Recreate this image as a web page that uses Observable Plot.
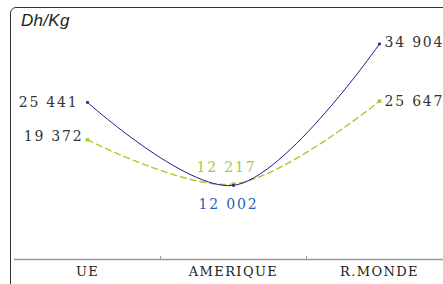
<!DOCTYPE html>
<html><head><meta charset="utf-8">
<script src="https://cdn.jsdelivr.net/npm/d3@7"></script>
<script src="https://cdn.jsdelivr.net/npm/@observablehq/plot@0.6"></script>
<style>
html,body{margin:0;padding:0;background:#fff;overflow:hidden;width:443px;height:284px;}
#wrap{position:relative;width:443px;height:284px;}
#frame{position:absolute;left:10px;top:7px;width:460px;height:300px;border:1.5px solid #333;border-radius:6px;box-sizing:border-box;pointer-events:none;}
#unit{position:absolute;left:21px;top:11px;font:italic 17px "Liberation Sans",Arial,sans-serif;color:#222;letter-spacing:0.3px;}
#chart{position:absolute;left:0;top:0;}
.val text{letter-spacing:1.8px;}
.cat text{letter-spacing:1.4px;}
</style></head>
<body><div id="wrap"><div id="chart"></div><div id="frame"></div><div id="unit">Dh/Kg</div></div>
<script>
const categories = ["UE", "AMERIQUE", "R.MONDE"];
const seriesBlue = [25441, 12002, 34904];
const seriesGreen = [19372, 12217, 25647];

const fmt = d3.formatLocale({thousands: " ", grouping: [3], decimal: ","}).format(",");
const blue = categories.map((c, i) => ({cat: c, v: seriesBlue[i], i}));
const green = categories.map((c, i) => ({cat: c, v: seriesGreen[i], i}));
const serif = "DejaVu Serif, serif";

const chart = Plot.plot({
  width: 443, height: 284,
  marginLeft: 14, marginRight: 0, marginTop: 12, marginBottom: 25,
  style: {background: "transparent", fontFamily: serif},
  x: {type: "band", domain: categories, range: [14, 452], padding: 0, axis: null},
  y: {domain: [0, 40000], axis: null},
  marks: [
    Plot.ruleY([0], {stroke: "#999", strokeWidth: 1.5}),
    Plot.ruleX(categories.slice(1), {x: d => d, dx: -73, y1: 0, y2: 0, insetTop: -3, stroke: "#999", strokeWidth: 1}),
    Plot.text(categories, {x: d => d, y: () => 0, dy: 12, fontSize: 13, fill: "#222", className: "cat", text: d => d}),
    Plot.line(green, {x: "cat", y: "v", curve: "catmull-rom", stroke: "#a8cc2a", strokeWidth: 1.4, strokeDasharray: "6,4"}),
    Plot.line(blue, {x: "cat", y: "v", curve: "catmull-rom", stroke: "#1c1c90", strokeWidth: 1}),
    Plot.dot(green, {x: "cat", y: "v", symbol: "square", r: 2, fill: "#a8cc2a"}),
    Plot.dot(blue, {x: "cat", y: "v", symbol: "square", r: 1.5, fill: "#1c1c90"}),
    // left-side labels
    Plot.text(blue, {filter: d => d.i === 0, x: "cat", y: "v", text: d => fmt(d.v), textAnchor: "end", dx: -9, fontSize: 14, fill: "#333", className: "val"}),
    Plot.text(green, {filter: d => d.i === 0, x: "cat", y: "v", text: d => fmt(d.v), textAnchor: "end", dx: -4, dy: -3, fontSize: 14, fill: "#333", className: "val"}),
    // right-side labels
    Plot.text(blue, {filter: d => d.i === 2, x: "cat", y: "v", text: d => fmt(d.v), textAnchor: "start", dx: 5, dy: -1, fontSize: 14, fill: "#333", className: "val"}),
    Plot.text(green, {filter: d => d.i === 2, x: "cat", y: "v", text: d => fmt(d.v), textAnchor: "start", dx: 5, fontSize: 14, fill: "#333", className: "val"}),
    // middle labels
    Plot.text(green, {filter: d => d.i === 1, x: "cat", y: "v", text: d => fmt(d.v), dx: -7, dy: -17, fontSize: 14, fill: "#a8c83c", className: "val"}),
    Plot.text(blue, {filter: d => d.i === 1, x: "cat", y: "v", text: d => fmt(d.v), dx: -5, dy: 19, fontSize: 14, fill: "#1f5fb4", className: "val"})
  ]
});
document.getElementById("chart").appendChild(chart);
</script></body></html>
